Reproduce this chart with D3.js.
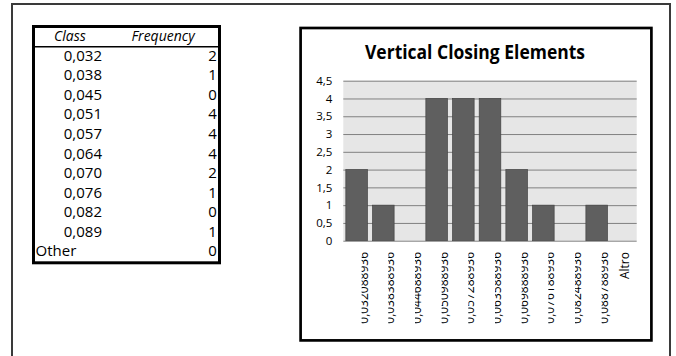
<!DOCTYPE html>
<html>
<head>
<meta charset="utf-8">
<script src="https://cdn.jsdelivr.net/npm/d3@7"></script>
<style>
  body { margin: 0; background: #fff; }
  svg { display: block; font-family: "Open Sans", sans-serif; }
</style>
</head>
<body>
<svg id="chart" width="676" height="356"></svg>
<script>
// data read from the sheet
const classLabels = ['0,032', '0,038', '0,045', '0,051', '0,057', '0,064', '0,070', '0,076', '0,082', '0,089', 'Other']
const frequencies = [2, 1, 0, 4, 4, 4, 2, 1, 0, 1, 0]
const binLabels = ['0,032088936', '0,038388936', '0,044688936', '0,050988936', '0,057288936',
  '0,063588936', '0,069888936', '0,076188936', '0,082488936', '0,088788936', 'Altro']
const yTicks = [0, 0.5, 1, 1.5, 2, 2.5, 3, 3.5, 4, 4.5]
const chartTitle = 'Vertical Closing Elements'

let svg = d3.select('#chart')
let itFormat = d3.formatLocale({ decimal: ',', thousands: '.', grouping: [3], currency: ['', '€'] }).format('~g')

// outer sheet frame
svg.append('rect')
  .attr('x', 12).attr('y', 4).attr('width', 658).attr('height', 400)
  .attr('fill', 'none').attr('stroke', '#3a3a3a').attr('stroke-width', 2)

// ---- frequency table ----
let table = svg.append('g')
table.append('rect')
  .attr('x', 33.5).attr('y', 26.5).attr('width', 186).attr('height', 236.3)
  .attr('fill', '#fff').attr('stroke', '#000').attr('stroke-width', 3)
table.append('line')
  .attr('x1', 33.5).attr('x2', 219.5).attr('y1', 46.7).attr('y2', 46.7)
  .attr('stroke', '#000').attr('stroke-width', 1.5)

table.append('text').text('Class')
  .attr('x', 70).attr('y', 40.7).attr('text-anchor', 'middle')
  .attr('font-size', '14px').attr('font-style', 'italic')
table.append('text').text('Frequency')
  .attr('x', 163).attr('y', 40.7).attr('text-anchor', 'middle')
  .attr('font-size', '14px').attr('font-style', 'italic')

let rowY = d3.scalePoint().domain(d3.range(classLabels.length)).range([60.7, 256.4])

table.selectAll('text.cls')
  .data(classLabels)
  .enter()
  .append('text')
  .attr('class', 'cls')
  .attr('font-size', '15px')
  .attr('y', (d, i) => rowY(i))
  .attr('x', d => d === 'Other' ? 35.5 : 102)
  .attr('text-anchor', d => d === 'Other' ? 'start' : 'end')
  .text(d => d)

table.selectAll('text.freq')
  .data(frequencies)
  .enter()
  .append('text')
  .attr('class', 'freq')
  .attr('font-size', '15px')
  .attr('y', (d, i) => rowY(i))
  .attr('x', 216.8)
  .attr('text-anchor', 'end')
  .text(d => d)

// ---- histogram chart ----
let box = svg.append('g')
box.append('rect')
  .attr('x', 300.6).attr('y', 28).attr('width', 350.8).attr('height', 312.4)
  .attr('fill', '#fff').attr('stroke', '#000').attr('stroke-width', 2.7)

box.append('text').text(chartTitle)
  .attr('x', 475).attr('y', 59.3).attr('text-anchor', 'middle')
  .attr('font-size', '19px').attr('font-weight', 'bold')
  .attr('textLength', 220).attr('lengthAdjust', 'spacingAndGlyphs')

let plotL = 343.3, plotR = 636.7, plotT = 80.7, plotB = 240.7

let x = d3.scaleBand().domain(binLabels).range([plotL, plotR]).paddingInner(0.19).paddingOuter(0.095)
let y = d3.scaleLinear().domain([0, 4.5]).range([plotB, plotT])

box.append('rect')
  .attr('x', plotL).attr('y', plotT).attr('width', plotR - plotL).attr('height', plotB - plotT)
  .attr('fill', '#e6e6e6')

let yAxis = box.append('g')
  .attr('transform', `translate(${plotL},0)`)
  .call(d3.axisLeft(y).tickValues(yTicks).tickFormat(itFormat).tickSizeInner(-(plotR - plotL)).tickSizeOuter(0).tickPadding(11))
yAxis.select('.domain').remove()
yAxis.selectAll('line').attr('stroke', '#808080').attr('stroke-width', 1)
yAxis.selectAll('text').attr('font-size', '11.5px').attr('fill', '#000')
  .attr('font-family', '"Open Sans", sans-serif')

// bars
box.selectAll('rect.bar')
  .data(frequencies)
  .enter()
  .append('rect')
  .attr('class', 'bar')
  .attr('x', (d, i) => x(binLabels[i]))
  .attr('y', d => y(d))
  .attr('width', x.bandwidth())
  .attr('height', d => y(0) - y(d))
  .attr('fill', '#5f5f5f')
  .attr('stroke', '#444')
  .attr('stroke-width', 0.7)

// rotated category labels, numeric ones clipped like in the sheet
let defs = svg.append('defs')
let labels = box.append('g')
binLabels.forEach((lab, i) => {
  let isOther = lab === 'Altro'
  let cx = x(lab) + x.bandwidth() / 2
  let base = cx + (isOther ? 6 : 11)
  let holder = labels.append('g')
  if (!isOther) {
    defs.append('clipPath').attr('id', 'lbl' + i)
      .append('rect')
      .attr('x', base - 6).attr('y', 245).attr('width', 10).attr('height', 90)
    holder.attr('clip-path', `url(#lbl${i})`)
  }
  holder.append('text')
    .attr('transform', `translate(${base},252) rotate(-90)`)
    .attr('text-anchor', 'end')
    .attr('font-size', '12px')
    .text(lab)
})
</script>
</body>
</html>
